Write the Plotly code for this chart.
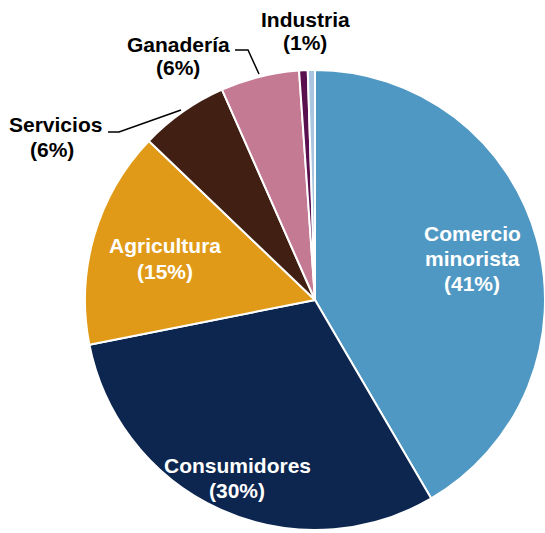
import plotly.graph_objects as go

# Share of total by sector
sectors = ["Comercio minorista", "Consumidores", "Agricultura", "Servicios",
           "Ganadería", "Industria", "Otros"]
shares = [41.4, 30.2, 15.2, 6.2, 5.5, 0.6, 0.5]
colors = ["#4F98C3", "#0C2650", "#E19A17", "#412013", "#C47A92", "#5A0F4E", "#A8C6E0"]

W, H = 545, 533

fig = go.Figure(go.Pie(
    labels=sectors,
    values=shares,
    sort=False,
    direction="clockwise",
    rotation=0,
    marker=dict(colors=colors, line=dict(color="white", width=2)),
    textinfo="none",
    hoverinfo="label+percent",
    domain=dict(x=[85 / W, 1.0], y=[1 - 531 / H, 1 - 69 / H]),
    showlegend=False,
))

font_family = "Liberation Sans, Arial, sans-serif"

# Each label line placed separately: (text, x px, y px, color)
label_lines = [
    ("Comercio", 472, 234, "white"),
    ("minorista", 472, 258.5, "white"),
    ("(41%)", 472, 283, "white"),
    ("Consumidores", 237, 465.5, "white"),
    ("(30%)", 237, 490.5, "white"),
    ("Agricultura", 165, 245.5, "white"),
    ("(15%)", 165, 271, "white"),
    ("Servicios", 55, 124, "black"),
    ("(6%)", 52, 150, "black"),
    ("Ganadería", 178, 44, "black"),
    ("(6%)", 178, 67, "black"),
    ("Industria", 305, 19, "black"),
    ("(1%)", 305, 42, "black"),
]
for text, x, y, col in label_lines:
    fig.add_annotation(
        x=x / W, y=1 - y / H, xref="paper", yref="paper",
        text=f"<b>{text}</b>", showarrow=False,
        font=dict(family=font_family, size=21, color=col),
        xanchor="center", yanchor="middle", align="center",
    )

# Leader lines for the outside labels
def px_path(points):
    return "M " + " L ".join(f"{x / W},{1 - y / H}" for x, y in points)

for pts in ([(108, 132), (119, 132), (181, 110)],
            [(235, 50), (248, 50), (259, 74)]):
    fig.add_shape(type="path", path=px_path(pts), xref="paper", yref="paper",
                  line=dict(color="black", width=1.5))

fig.update_layout(
    width=W, height=H,
    margin=dict(l=0, r=0, t=0, b=0),
    paper_bgcolor="white",
    plot_bgcolor="white",
)

fig.write_html("out.html")
